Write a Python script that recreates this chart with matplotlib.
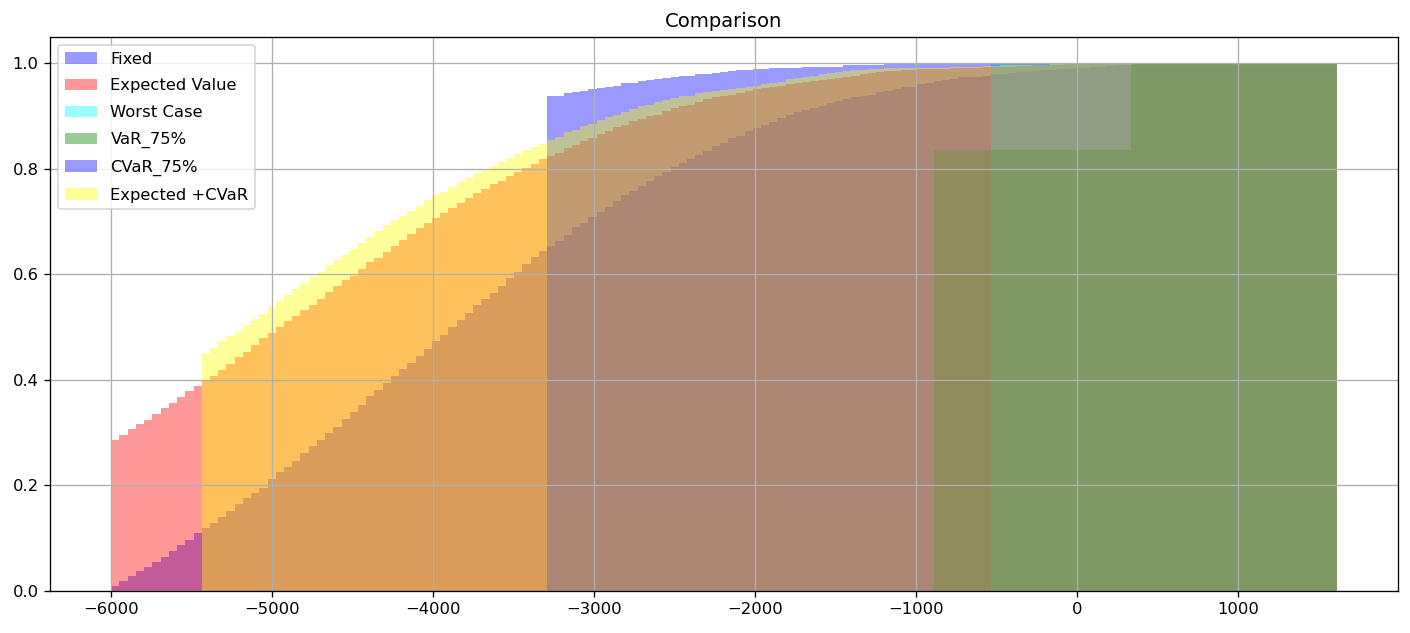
import matplotlib
matplotlib.use("Agg")
import matplotlib.pyplot as plt
import numpy as np

# shared bins of the cumulative histograms
bin_lo, bin_hi, n_bins = -6000, 1614, 149

# cumulative share per bin; each list starts at its first non-empty bin
fixed_first = 0
fixed_vals = [
    0.010, 0.019, 0.028, 0.038, 0.046, 0.055, 0.065, 0.076, 0.087, 0.097, 0.109,
    0.119, 0.129, 0.140, 0.151, 0.165, 0.176, 0.186, 0.196, 0.213, 0.225,
    0.235, 0.247, 0.261, 0.275, 0.287, 0.299, 0.311, 0.326, 0.339, 0.352,
    0.369, 0.381, 0.394, 0.407, 0.420, 0.432, 0.445, 0.458, 0.473, 0.485,
    0.500, 0.513, 0.527, 0.542,
    0.553, 0.564, 0.579, 0.593, 0.604, 0.619, 0.633, 0.644,
    0.653, 0.664, 0.675, 0.689, 0.698, 0.709, 0.718, 0.728, 0.739, 0.750,
    0.759, 0.767, 0.777, 0.786, 0.794, 0.803, 0.811, 0.818, 0.826, 0.833,
    0.843, 0.850, 0.858, 0.863, 0.871, 0.877, 0.883, 0.888, 0.896, 0.902, 0.907,
    0.911, 0.915, 0.920, 0.924, 0.928, 0.932, 0.936, 0.939, 0.941, 0.945,
    0.947, 0.951, 0.955, 0.956, 0.960, 0.962, 0.966, 0.968, 0.970, 0.974, 0.974, 0.975, 0.977,
    0.979, 0.980, 0.982, 0.983, 0.984, 0.986, 0.987, 0.988, 0.989, 0.990,
    0.991, 0.992, 0.993, 0.994, 0.995, 0.996, 0.997, 0.998, 0.999, 0.999,
] + [1.0] * 22

expected_first = 0
expected_vals = [
    0.286, 0.295, 0.307, 0.316, 0.324, 0.336, 0.347, 0.356, 0.367, 0.379, 0.388,
    0.400, 0.408, 0.419, 0.430, 0.443, 0.453, 0.466, 0.479, 0.489, 0.500, 0.511,
    0.521, 0.532, 0.542, 0.554, 0.566, 0.578, 0.589, 0.597, 0.611, 0.623,
    0.631, 0.642, 0.653, 0.665, 0.676, 0.688, 0.698, 0.707, 0.716, 0.726,
    0.735, 0.744, 0.754, 0.762, 0.771, 0.778, 0.787, 0.795, 0.801, 0.809, 0.818,
    0.824, 0.831, 0.839, 0.845, 0.852, 0.858, 0.866, 0.871, 0.879, 0.884,
    0.890, 0.894, 0.900, 0.903, 0.909, 0.915, 0.920, 0.922, 0.926, 0.932,
    0.936, 0.938, 0.941, 0.943, 0.947, 0.951, 0.953, 0.955, 0.958, 0.960, 0.962,
    0.964, 0.966, 0.968, 0.970, 0.972, 0.975, 0.977, 0.979, 0.981, 0.983,
    0.985, 0.985, 0.987, 0.987, 0.989, 0.989, 0.990, 0.990, 0.991, 0.991, 0.992, 0.992, 0.993,
    0.993, 0.994, 0.994, 0.995, 0.995, 0.996, 0.996, 0.997, 0.997, 0.998,
    0.998, 0.998, 0.999, 0.999, 0.999, 0.999, 1.0, 1.0, 1.0, 1.0,
] + [1.0] * 22

worst_first = 107
worst_vals = [1.0] * 42

var_first = 100
var_vals = [0.835] * 24 + [1.0] * 25

cvar_first = 53
cvar_vals = [
    0.938, 0.939, 0.944, 0.946, 0.947, 0.951, 0.953, 0.955, 0.958, 0.962,
    0.963, 0.966, 0.968, 0.970, 0.973, 0.975, 0.977, 0.977, 0.979, 0.979,
    0.982, 0.983, 0.985, 0.987, 0.987, 0.989, 0.989, 0.991, 0.991, 0.992, 0.992,
] + [0.994] * 5 + [0.996] * 5 + [0.998] * 13 + [0.998] * 6 + [0.999] * 8 + [1.0] * 28

exp_cvar_first = 11
exp_cvar_vals = [
    0.450, 0.461, 0.473, 0.484, 0.492, 0.504, 0.515, 0.525, 0.538, 0.549,
    0.561, 0.572, 0.583, 0.595, 0.604, 0.617, 0.627, 0.636, 0.648, 0.659,
    0.670, 0.682, 0.693, 0.703, 0.710, 0.720, 0.729, 0.741, 0.750, 0.756,
    0.765, 0.775, 0.783, 0.792, 0.799, 0.805, 0.814, 0.821, 0.828, 0.835,
    0.842, 0.848,
    0.854, 0.860, 0.869, 0.874, 0.881, 0.886, 0.892, 0.898, 0.902, 0.907,
    0.913, 0.919, 0.922, 0.926, 0.930, 0.934, 0.938, 0.939, 0.943, 0.945,
    0.947, 0.949, 0.951, 0.953, 0.956, 0.958, 0.960, 0.962, 0.964, 0.970, 0.973,
    0.975, 0.977, 0.979, 0.981, 0.983, 0.985, 0.987, 0.987, 0.989, 0.989,
    0.991, 0.991, 0.991, 0.991, 0.992, 0.992, 0.992, 0.992, 0.993, 0.993, 0.994, 0.994, 0.995,
    0.995, 0.996, 0.996, 0.996, 0.997, 0.997, 0.997, 0.998, 0.998, 0.998,
    0.999, 0.999, 0.999, 0.999, 1.0, 1.0, 1.0, 1.0, 1.0, 1.0,
] + [1.0] * 22

series = [
    ("Fixed", "blue", fixed_first, fixed_vals),
    ("Expected Value", "red", expected_first, expected_vals),
    ("Worst Case", "cyan", worst_first, worst_vals),
    ("VaR_75%", "green", var_first, var_vals),
    ("CVaR_75%", "blue", cvar_first, cvar_vals),
    ("Expected +CVaR", "yellow", exp_cvar_first, exp_cvar_vals),
]

edges = np.linspace(bin_lo, bin_hi, n_bins + 1)
centers = (edges[:-1] + edges[1:]) / 2

dpi = 117.5
fig = plt.figure(figsize=(1410 / dpi, 633 / dpi), dpi=dpi)
ax = fig.add_axes([50 / 1410, 1 - 591 / 633, 1348 / 1410, 554 / 633])

for name, color, first, vals in series:
    ax.hist(centers[first:first + len(vals)], bins=edges[first:first + len(vals) + 1],
            weights=vals, alpha=0.4, color=color, label=name)

ax.set_title("Comparison")
ax.grid(True)
ax.legend(loc="upper left", labelspacing=0.72)

fig.savefig("out.png", dpi=dpi)
